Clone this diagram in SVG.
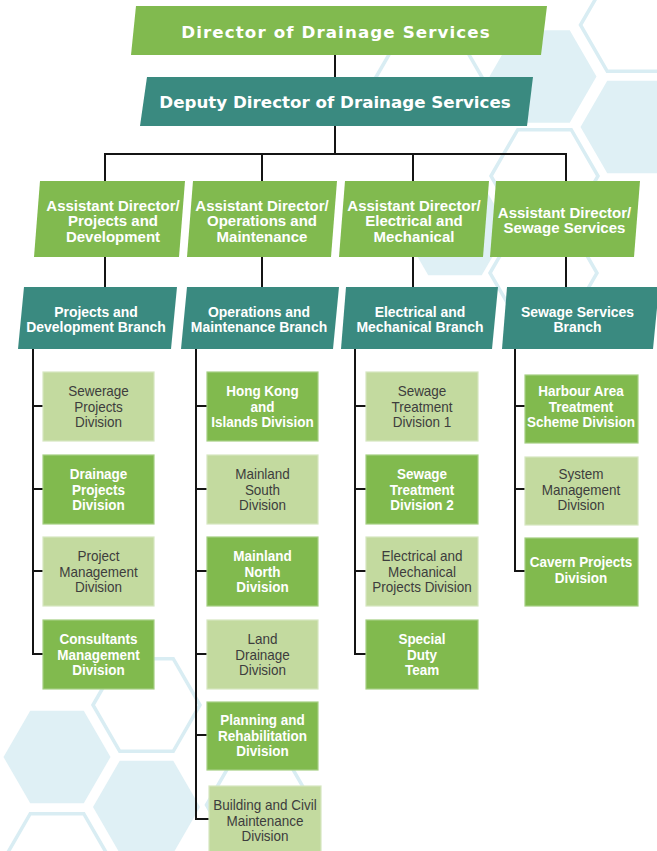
<svg xmlns="http://www.w3.org/2000/svg" xmlns:xlink="http://www.w3.org/1999/xlink" width="657" height="851" viewBox="0 0 657 851">
  <style>
    text { font-family: "Liberation Sans", Arial, sans-serif; text-anchor: middle; }
    .hf { fill: #dff0f5; stroke: none; }
    .ho { fill: none; stroke: #d9edf3; stroke-width: 3.5; }
    .lead { fill: #81ba4f; }
    .branch { fill: #3a8a80; }
    .dark { fill: #81ba4e; stroke: #a5cf82; stroke-width: 1.2; }
    .pale { fill: #c3da9f; stroke: #d6e7c0; stroke-width: 1.2; }
    .title { font-family: "DejaVu Sans", "Liberation Sans", sans-serif; font-size: 16.7px; font-weight: bold; fill: #ffffff; }
    .ad { font-size: 15px; font-weight: bold; fill: #ffffff; }
    .br { font-size: 15px; font-weight: bold; fill: #ffffff; }
    .tw { font-size: 15px; font-weight: bold; fill: #ffffff; }
    .td { font-size: 15px; fill: #3d3d3d; }
    #connectors path { fill: none; stroke: #141414; stroke-width: 2; }
  </style>
  <defs>
    <path id="hex" d="M-53.5 0 L-26.75 -46.3 L26.75 -46.3 L53.5 0 L26.75 46.3 L-26.75 46.3 Z"/>
  </defs>

  <rect width="657" height="851" fill="#ffffff"/>

  <!-- honeycomb backdrop -->
  <g id="backdrop">
    <use xlink:href="#hex" x="543" y="76.5" class="hf"/>
    <use xlink:href="#hex" x="634" y="127" class="hf"/>
    <use xlink:href="#hex" x="455" y="229" class="hf"/>
    <use xlink:href="#hex" x="57" y="757" class="hf"/>
    <use xlink:href="#hex" x="146.5" y="807" class="hf"/>
    <use xlink:href="#hex" x="429" y="78" class="ho"/>
    <use xlink:href="#hex" x="634" y="25" class="ho"/>
    <use xlink:href="#hex" x="544.5" y="176" class="ho"/>
    <use xlink:href="#hex" x="543.5" y="273" class="ho"/>
    <use xlink:href="#hex" x="146.5" y="705" class="ho"/>
    <use xlink:href="#hex" x="57" y="860" class="ho"/>
    <use xlink:href="#hex" x="260" y="805" class="ho"/>
  </g>

  <!-- reporting lines -->
  <g id="connectors">
    <path d="M335 55 V77"/>
    <path d="M335 126 V154"/>
    <path d="M105 181 V154 H566 V181"/>
    <path d="M262 154 V181"/>
    <path d="M413 154 V181"/>
    <path d="M105 257 V287"/>
    <path d="M262 257 V287"/>
    <path d="M413 257 V287"/>
    <path d="M566 257 V287"/>
    <!-- projects and development -->
    <path d="M33 349 V654 H43"/>
    <path d="M33 406 H43 M33 489 H43 M33 571 H43"/>
    <!-- operations and maintenance -->
    <path d="M196 349 V819 H209"/>
    <path d="M196 406 H207 M196 489 H207 M196 571 H207 M196 654 H207 M196 735 H207"/>
    <!-- electrical and mechanical -->
    <path d="M355 349 V654 H366"/>
    <path d="M355 406 H366 M355 489 H366 M355 571 H366"/>
    <!-- sewage services -->
    <path d="M515 349 V571 H525"/>
    <path d="M515 406 H525 M515 489 H525"/>
  </g>

  <g id="director">
    <polygon class="lead" points="136,6 547,6 541,55 131,55"/>
    <text class="title" x="336" y="37.5" letter-spacing="1.1">Director of Drainage Services</text>
  </g>

  <g id="deputy-director">
    <polygon class="branch" points="147,77 533,77 527,126 140,126"/>
    <text class="title" x="335" y="108">Deputy Director of Drainage Services</text>
  </g>

  <!-- assistant directors -->
  <g id="ad-projects">
    <polygon class="lead" points="40,181 185,181 179,257 34,257"/>
    <text class="ad"><tspan x="113" y="210.5">Assistant Director/</tspan><tspan x="113" y="226">Projects and</tspan><tspan x="113" y="241.5">Development</tspan></text>
  </g>
  <g id="ad-operations">
    <polygon class="lead" points="193,181 337,181 331,257 187,257"/>
    <text class="ad"><tspan x="262" y="210.5">Assistant Director/</tspan><tspan x="262" y="226">Operations and</tspan><tspan x="262" y="241.5">Maintenance</tspan></text>
  </g>
  <g id="ad-electrical">
    <polygon class="lead" points="345,181 489,181 483,257 339,257"/>
    <text class="ad"><tspan x="414" y="210.5">Assistant Director/</tspan><tspan x="414" y="226">Electrical and</tspan><tspan x="414" y="241.5">Mechanical</tspan></text>
  </g>
  <g id="ad-sewage">
    <polygon class="lead" points="496,181 640,181 634,257 490,257"/>
    <text class="ad"><tspan x="564.5" y="217.5">Assistant Director/</tspan><tspan x="564.5" y="233">Sewage Services</tspan></text>
  </g>

  <!-- branches (labels set slightly condensed) -->
  <g id="branch-projects">
    <polygon class="branch" points="24,287 177,287 171,349 18,349"/>
    <text class="br" transform="translate(96 0) scale(0.93 1)"><tspan x="0" y="317">Projects and</tspan><tspan x="0" y="332">Development Branch</tspan></text>
  </g>
  <g id="branch-operations">
    <polygon class="branch" points="187,287 339,287 333,349 181,349"/>
    <text class="br" transform="translate(259 0) scale(0.93 1)"><tspan x="0" y="317">Operations and</tspan><tspan x="0" y="332">Maintenance Branch</tspan></text>
  </g>
  <g id="branch-electrical">
    <polygon class="branch" points="346,287 498,287 492,349 341,349"/>
    <text class="br" transform="translate(420 0) scale(0.93 1)"><tspan x="0" y="317">Electrical and</tspan><tspan x="0" y="332">Mechanical Branch</tspan></text>
  </g>
  <g id="branch-sewage">
    <polygon class="branch" points="507,287 659,287 653,349 502,349"/>
    <text class="br" transform="translate(577.5 0) scale(0.93 1)"><tspan x="0" y="317">Sewage Services</tspan><tspan x="0" y="332">Branch</tspan></text>
  </g>

  <!-- projects and development divisions -->
  <g id="div-sewerage-projects">
    <rect class="pale" x="43" y="372" width="111" height="69"/>
    <text class="td" transform="translate(98.5 0) scale(0.9 1)"><tspan x="0" y="396.5">Sewerage</tspan><tspan x="0" y="412">Projects</tspan><tspan x="0" y="427.5">Division</tspan></text>
  </g>
  <g id="div-drainage-projects">
    <rect class="dark" x="43" y="455" width="111" height="69"/>
    <text class="tw" transform="translate(98.5 0) scale(0.9 1)"><tspan x="0" y="479.5">Drainage</tspan><tspan x="0" y="495">Projects</tspan><tspan x="0" y="510.5">Division</tspan></text>
  </g>
  <g id="div-project-management">
    <rect class="pale" x="43" y="537" width="111" height="69"/>
    <text class="td" transform="translate(98.5 0) scale(0.9 1)"><tspan x="0" y="561.5">Project</tspan><tspan x="0" y="577">Management</tspan><tspan x="0" y="592.5">Division</tspan></text>
  </g>
  <g id="div-consultants-management">
    <rect class="dark" x="43" y="620" width="111" height="69"/>
    <text class="tw" transform="translate(98.5 0) scale(0.9 1)"><tspan x="0" y="644.5">Consultants</tspan><tspan x="0" y="660">Management</tspan><tspan x="0" y="675.5">Division</tspan></text>
  </g>

  <!-- operations and maintenance divisions -->
  <g id="div-hk-islands">
    <rect class="dark" x="207" y="372" width="111" height="69"/>
    <text class="tw" transform="translate(262.5 0) scale(0.9 1)"><tspan x="0" y="396.5">Hong Kong</tspan><tspan x="0" y="412">and</tspan><tspan x="0" y="427.5">Islands Division</tspan></text>
  </g>
  <g id="div-mainland-south">
    <rect class="pale" x="207" y="455" width="111" height="69"/>
    <text class="td" transform="translate(262.5 0) scale(0.9 1)"><tspan x="0" y="479.5">Mainland</tspan><tspan x="0" y="495">South</tspan><tspan x="0" y="510.5">Division</tspan></text>
  </g>
  <g id="div-mainland-north">
    <rect class="dark" x="207" y="537" width="111" height="69"/>
    <text class="tw" transform="translate(262.5 0) scale(0.9 1)"><tspan x="0" y="561.5">Mainland</tspan><tspan x="0" y="577">North</tspan><tspan x="0" y="592.5">Division</tspan></text>
  </g>
  <g id="div-land-drainage">
    <rect class="pale" x="207" y="620" width="111" height="69"/>
    <text class="td" transform="translate(262.5 0) scale(0.9 1)"><tspan x="0" y="644.5">Land</tspan><tspan x="0" y="660">Drainage</tspan><tspan x="0" y="675.5">Division</tspan></text>
  </g>
  <g id="div-planning-rehabilitation">
    <rect class="dark" x="207" y="702" width="111" height="68"/>
    <text class="tw" transform="translate(262.5 0) scale(0.9 1)"><tspan x="0" y="725.5">Planning and</tspan><tspan x="0" y="741">Rehabilitation</tspan><tspan x="0" y="756.5">Division</tspan></text>
  </g>
  <g id="div-building-civil">
    <rect class="pale" x="209" y="786" width="112" height="69"/>
    <text class="td" transform="translate(265 0) scale(0.9 1)"><tspan x="0" y="810.5">Building and Civil</tspan><tspan x="0" y="826">Maintenance</tspan><tspan x="0" y="841.5">Division</tspan></text>
  </g>

  <!-- electrical and mechanical divisions -->
  <g id="div-sewage-treatment-1">
    <rect class="pale" x="366" y="372" width="112" height="69"/>
    <text class="td" transform="translate(422 0) scale(0.9 1)"><tspan x="0" y="396.5">Sewage</tspan><tspan x="0" y="412">Treatment</tspan><tspan x="0" y="427.5">Division 1</tspan></text>
  </g>
  <g id="div-sewage-treatment-2">
    <rect class="dark" x="366" y="455" width="112" height="69"/>
    <text class="tw" transform="translate(422 0) scale(0.9 1)"><tspan x="0" y="479.5">Sewage</tspan><tspan x="0" y="495">Treatment</tspan><tspan x="0" y="510.5">Division 2</tspan></text>
  </g>
  <g id="div-em-projects">
    <rect class="pale" x="366" y="537" width="112" height="69"/>
    <text class="td" transform="translate(422 0) scale(0.9 1)"><tspan x="0" y="561.5">Electrical and</tspan><tspan x="0" y="577">Mechanical</tspan><tspan x="0" y="592.5">Projects Division</tspan></text>
  </g>
  <g id="div-special-duty">
    <rect class="dark" x="366" y="620" width="112" height="69"/>
    <text class="tw" transform="translate(422 0) scale(0.9 1)"><tspan x="0" y="644.5">Special</tspan><tspan x="0" y="660">Duty</tspan><tspan x="0" y="675.5">Team</tspan></text>
  </g>

  <!-- sewage services divisions -->
  <g id="div-harbour-area">
    <rect class="dark" x="525" y="375" width="113" height="68"/>
    <text class="tw" transform="translate(581 0) scale(0.9 1)"><tspan x="0" y="396.5">Harbour Area</tspan><tspan x="0" y="412">Treatment</tspan><tspan x="0" y="427.5">Scheme Division</tspan></text>
  </g>
  <g id="div-system-management">
    <rect class="pale" x="525" y="457" width="113" height="68"/>
    <text class="td" transform="translate(581 0) scale(0.9 1)"><tspan x="0" y="479.5">System</tspan><tspan x="0" y="495">Management</tspan><tspan x="0" y="510.5">Division</tspan></text>
  </g>
  <g id="div-cavern-projects">
    <rect class="dark" x="525" y="538" width="113" height="68"/>
    <text class="tw" transform="translate(581 0) scale(0.9 1)"><tspan x="0" y="567.3">Cavern Projects</tspan><tspan x="0" y="583.3">Division</tspan></text>
  </g>
</svg>
